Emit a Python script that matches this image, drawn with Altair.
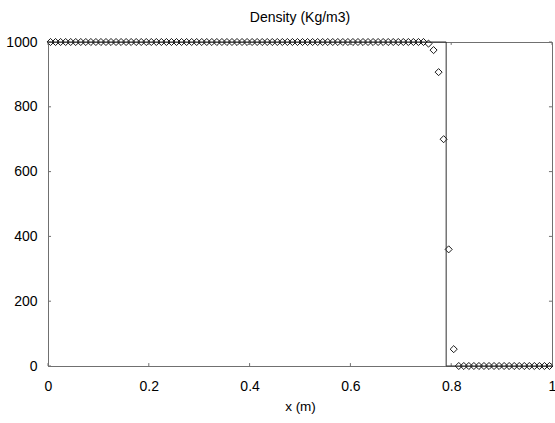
import altair as alt
import pandas as pd

# numerical solution (cell centres)
x_num = [round(0.005 + 0.01 * i, 3) for i in range(100)]
rho_num = ([1000.0] * 75 + [995.0, 975.0, 907.0, 700.0, 360.0, 52.0] + [0.0] * 19)

# exact solution
x_exact = [0.0, 0.79, 0.79, 1.0]
rho_exact = [1000.0, 1000.0, 0.0, 0.0]
order_exact = [0, 1, 2, 3]

x_ticks = [0, 0.2, 0.4, 0.6, 0.8, 1.0]
y_ticks = [0, 200, 400, 600, 800, 1000]

num_df = pd.DataFrame({"x": x_num, "y": rho_num})
ex_df = pd.DataFrame({"x": x_exact, "y": rho_exact, "o": order_exact})

FONT = "Liberation Sans"
GRAY = "#707070"

xs = alt.Scale(domain=[0, 1], nice=False, zero=False)
ys = alt.Scale(domain=[0, 1000], nice=False, zero=False)
xaxis = alt.Axis(values=x_ticks, format="~g", grid=False, ticks=False,
                 labelPadding=13, titlePadding=6, labelFlush=False,
                 labelOverlap=False, labelBound=False,
                 labelFont=FONT, labelFontSize=14, labelColor="black",
                 titleFont=FONT, titleFontSize=13.5, titleColor="black",
                 titleFontWeight="normal", domainColor=GRAY, domainWidth=1)
yaxis = alt.Axis(values=y_ticks, format="d", grid=False, ticks=False,
                 labelPadding=11, labelFlush=False, labelOverlap=False,
                 labelFont=FONT, labelFontSize=14, labelColor="black",
                 domainColor=GRAY, domainWidth=1)


def X():
    return alt.X("x:Q", scale=xs, title="x (m)", axis=xaxis)


def Y():
    return alt.Y("y:Q", scale=ys, title=None, axis=yaxis)


points = alt.Chart(num_df).mark_point(
    shape="diamond", filled=False, color="black", size=50, strokeWidth=0.9, opacity=1
).encode(x=X(), y=Y())

exact = alt.Chart(ex_df).mark_line(color="#303030", strokeWidth=1).encode(
    x=X(), y=Y(), order="o:Q",
)

# inward tick marks on all four sides
bt = pd.DataFrame({"x": x_ticks, "y": [0] * 6, "y2": [9] * 6})
tt = pd.DataFrame({"x": x_ticks, "y": [1000] * 6, "y2": [991] * 6})
lt = pd.DataFrame({"y": y_ticks, "x": [0] * 6, "x2": [0.006] * 6})
rt = pd.DataFrame({"y": y_ticks, "x": [1] * 6, "x2": [0.994] * 6})


def vtick(df):
    return alt.Chart(df).mark_rule(color=GRAY, strokeWidth=1).encode(
        x=X(), y=Y(), y2="y2:Q",
    )


def htick(df):
    return alt.Chart(df).mark_rule(color=GRAY, strokeWidth=1).encode(
        x=X(), x2="x2:Q", y=Y(),
    )


chart = alt.layer(
    points, vtick(bt), vtick(tt), htick(lt), htick(rt), exact
).properties(
    width=504,
    height=324,
    title=alt.TitleParams("Density (Kg/m3)", font=FONT, fontSize=14,
                          fontWeight="normal", color="black", offset=10),
    autosize=alt.AutoSizeParams(type="none"),
    padding={"left": 48, "top": 42, "right": 3, "bottom": 57},
    background="white",
).configure_view(
    stroke=GRAY, strokeWidth=1
)

chart.save("out.html", embed_options={"renderer": "svg", "actions": False})
